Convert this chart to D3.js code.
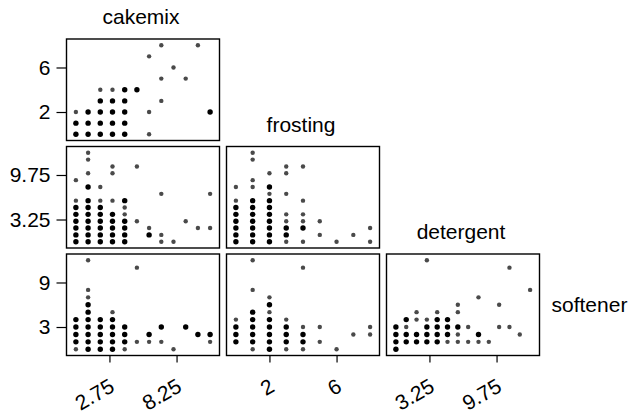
<!DOCTYPE html>
<html><head><meta charset="utf-8">
<script src="https://cdn.jsdelivr.net/npm/d3@7"></script>
<style>
html,body{margin:0;padding:0;background:#fff;}
svg{display:block;font-family:"Liberation Sans",Arial,Helvetica,sans-serif;}
</style></head>
<body><svg id="chart" width="632" height="415"></svg>
<script>
// ---- data ----
const variables = ["cakemix", "frosting", "detergent", "softener"];
const domains = { cakemix: [0, 11], frosting: [0, 8], detergent: [0, 13], softener: [0, 12] };
const tickValues = { cakemix: [2.75, 8.25], frosting: [2, 6], detergent: [3.25, 9.75], softener: [3, 9] };
const tickLabels = { cakemix: ["2.75", "8.25"], frosting: ["2", "6"], detergent: ["3.25", "9.75"], softener: ["3", "9"] };

// [x, y, n]  n = 1 single observation, 2 = several overlapping observations
const cakemixFrosting = [
  [7,8,1],[10,8,1],[6,7,1],[8,6,1],[7,5,1],[9,5,1],
  [2,4,1],[3,4,1],[4,4,2],[5,4,2],
  [2,3,2],[3,3,2],[4,3,2],[7,3,1],
  [0,2,1],[1,2,2],[2,2,2],[3,2,2],[4,2,2],[6,2,1],[11,2,2],
  [0,1,2],[1,1,2],[2,1,2],[3,1,2],[4,1,2],
  [0,0,2],[1,0,2],[2,0,2],[3,0,2],[4,0,2],[6,0,1]
];
const cakemixDetergent = [
  [1,13,1],[1,12,1],[3,11,1],[5,11,1],[1,10,1],[3,10,1],[0,9,1],[1,8,2],[2,8,1],[7,7,1],[11,7,1],
  [0,6,1],[1,6,2],[2,6,1],[3,6,1],[4,6,2],
  [0,5,2],[1,5,2],[2,5,2],[4,5,1],
  [0,4,2],[1,4,2],[2,4,2],[3,4,2],[4,4,1],
  [0,3,2],[1,3,2],[2,3,2],[3,3,2],[4,3,2],[5,3,1],[9,3,1],
  [0,2,2],[1,2,2],[2,2,2],[3,2,2],[4,2,2],[6,2,1],[10,2,1],[11,2,1],
  [0,1,2],[1,1,2],[2,1,2],[3,1,2],[4,1,2],[6,1,2],[7,1,1],
  [0,0,2],[1,0,2],[2,0,2],[3,0,2],[4,0,2],[7,0,1],[8,0,1]
];
const cakemixSoftener = [
  [1,12,1],[5,11,1],[1,8,1],[1,7,1],[1,6,2],[1,5,2],[3,5,1],
  [0,4,2],[1,4,2],[2,4,2],[3,4,2],
  [0,3,2],[1,3,2],[2,3,2],[3,3,2],[4,3,2],[7,3,2],[9,3,2],
  [0,2,2],[1,2,2],[2,2,2],[3,2,2],[4,2,2],[6,2,2],[10,2,2],[11,2,2],
  [0,1,2],[1,1,2],[2,1,2],[3,1,2],[4,1,2],[5,1,1],[6,1,1],[7,1,1],[11,1,1],
  [0,0,1],[1,0,2],[2,0,2],[3,0,2],[4,0,1],[8,0,1]
];
const frostingDetergent = [
  [1,13,1],[1,12,1],[3,11,1],[4,11,1],[2,10,1],[3,10,1],[1,9,1],[0,8,1],[1,8,1],[2,8,2],[2,7,1],[3,7,1],
  [0,6,1],[1,6,2],[2,6,2],[4,6,1],
  [0,5,2],[1,5,2],[2,5,2],
  [0,4,2],[1,4,2],[2,4,2],[3,4,1],[4,4,1],
  [0,3,2],[1,3,2],[2,3,2],[3,3,1],[4,3,1],[5,3,1],
  [0,2,2],[1,2,2],[2,2,2],[3,2,2],[4,2,2],[8,2,1],
  [0,1,2],[1,1,2],[2,1,2],[3,1,2],[5,1,1],[7,1,1],
  [0,0,2],[1,0,2],[2,0,2],[3,0,1],[4,0,1],[6,0,1],[8,0,1]
];
const frostingSoftener = [
  [1,12,1],[4,11,1],[1,8,1],[2,7,1],[2,6,2],[1,5,2],[2,5,1],
  [0,4,1],[1,4,2],[2,4,2],[3,4,1],
  [0,3,2],[1,3,2],[2,3,2],[3,3,2],[4,3,1],[5,3,1],[8,3,1],
  [0,2,2],[1,2,2],[2,2,2],[3,2,2],[4,2,2],[7,2,1],[8,2,1],
  [0,1,2],[1,1,2],[2,1,2],[3,1,2],[4,1,2],[5,1,1],
  [1,0,1],[2,0,2],[3,0,1],[4,0,1],[6,0,1]
];
const detergentSoftener = [
  [3,12,1],[11,11,1],[13,8,1],[8,7,1],[6,6,1],[10,6,1],[2,5,1],[4,5,1],[6,5,1],
  [1,4,2],[2,4,1],[3,4,1],[4,4,2],[5,4,2],
  [0,3,2],[1,3,1],[3,3,2],[4,3,2],[5,3,2],[6,3,2],[7,3,1],[10,3,1],[11,3,1],
  [0,2,2],[1,2,2],[2,2,2],[3,2,2],[4,2,2],[5,2,2],[6,2,1],[8,2,2],[12,2,1],
  [0,1,2],[1,1,2],[2,1,2],[3,1,2],[4,1,2],[5,1,1],[6,1,1],[7,1,1],[8,1,1],[9,1,1],
  [0,0,2]
];

// ---- layout ----
const colVars = ["cakemix", "frosting", "detergent"];
const rowVars = ["frosting", "detergent", "softener"];
const colLeft = [66.5, 226.5, 386.5], panelW = 153;
const rowTop = [39, 146.5, 254], panelH = 101.5;
const pad = 0.07;

const panels = [
  { r: 0, c: 0, data: cakemixFrosting },
  { r: 1, c: 0, data: cakemixDetergent },
  { r: 1, c: 1, data: frostingDetergent },
  { r: 2, c: 0, data: cakemixSoftener },
  { r: 2, c: 1, data: frostingSoftener },
  { r: 2, c: 2, data: detergentSoftener }
];

function padDom(d) { const s = d[1] - d[0]; return [d[0] - pad * s, d[1] + pad * s]; }
const xScales = colVars.map((v, c) => d3.scaleLinear().domain(padDom(domains[v])).range([colLeft[c], colLeft[c] + panelW]));
const yScales = rowVars.map((v, r) => d3.scaleLinear().domain(padDom(domains[v])).range([rowTop[r] + panelH, rowTop[r]]));

const svg = d3.select("#chart");
const tickFont = 21, titleFont = 21;

panels.forEach(p => {
  const g = svg.append("g");
  g.append("rect")
    .attr("x", colLeft[p.c]).attr("y", rowTop[p.r])
    .attr("width", panelW).attr("height", panelH)
    .attr("fill", "none").attr("stroke", "#000").attr("stroke-width", 1.4);
  const xs = xScales[p.c], ys = yScales[p.r];
  g.selectAll("circle").data(p.data).enter().append("circle")
    .attr("cx", d => xs(d[0])).attr("cy", d => ys(d[1]))
    .attr("r", d => d[2] > 1 ? 2.7 : 2.2)
    .attr("fill", d => d[2] > 1 ? "#000" : "#4a4a4a");
});

// left axes (column 1)
rowVars.forEach((v, r) => {
  const ax = d3.axisLeft(yScales[r]).tickValues(tickValues[v])
    .tickFormat((d, i) => tickLabels[v][i]).tickSize(10).tickPadding(6);
  const g = svg.append("g").attr("transform", `translate(${colLeft[0]},0)`).call(ax);
  g.select(".domain").remove();
  g.selectAll("line").attr("stroke", "#000").attr("stroke-width", 1.2);
  g.selectAll("text").attr("font-size", tickFont).attr("fill", "#000")
    .attr("font-family", '"Liberation Sans",Arial,sans-serif');
});

// bottom axes (row 3)
colVars.forEach((v, c) => {
  const ax = d3.axisBottom(xScales[c]).tickValues(tickValues[v])
    .tickFormat((d, i) => tickLabels[v][i]).tickSize(7);
  const yb = rowTop[2] + panelH;
  const g = svg.append("g").attr("transform", `translate(0,${yb})`).call(ax);
  g.select(".domain").remove();
  g.selectAll("line").attr("stroke", "#000").attr("stroke-width", 1.2);
  g.selectAll("text")
    .attr("font-size", tickFont).attr("fill", "#000")
    .attr("font-family", '"Liberation Sans",Arial,sans-serif')
    .attr("text-anchor", "end")
    .attr("x", 6).attr("y", 35).attr("dy", 0)
    .attr("transform", "rotate(-30 6 35)");
});

// variable names
[["cakemix", 0], ["frosting", 1], ["detergent", 2]].forEach(([name, i]) => {
  svg.append("text")
    .attr("x", colLeft[i] + panelW / 2 - 2).attr("y", rowTop[i] - 15)
    .attr("text-anchor", "middle").attr("font-size", titleFont).attr("fill", "#000")
    .text(name);
});
svg.append("text")
  .attr("x", colLeft[2] + panelW + 12).attr("y", rowTop[2] + panelH / 2 + 7)
  .attr("font-size", titleFont).attr("fill", "#000")
  .text(variables[3]);
</script>
</body></html>
